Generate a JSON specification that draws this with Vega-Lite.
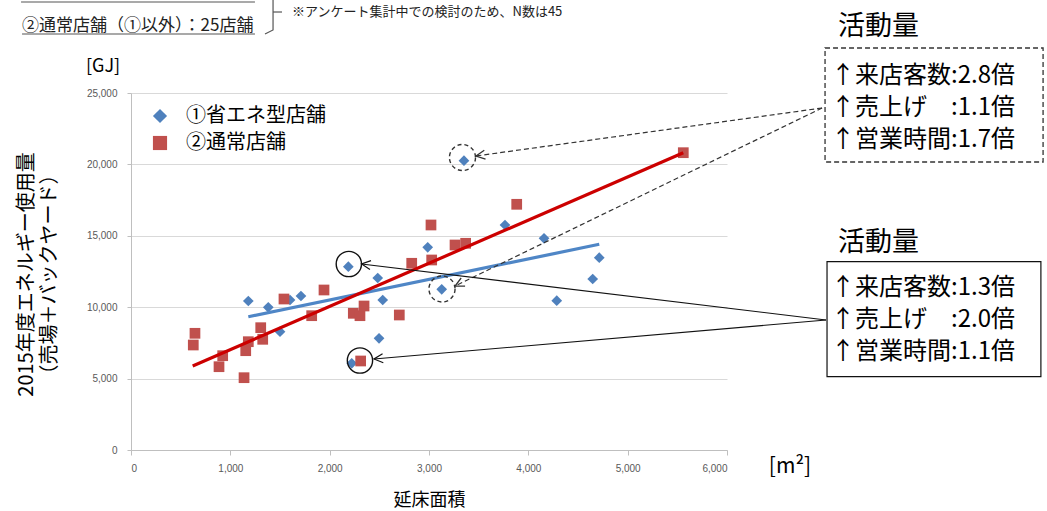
{
  "$schema": "https://vega.github.io/schema/vega-lite/v6.json",
  "width": 596,
  "height": 357,
  "autosize": {"type": "none"},
  "padding": {"left": 131, "top": 93, "right": 320, "bottom": 61},
  "background": "white",
  "config": {"view": {"stroke": null}, "font": "Noto Sans CJK JP", "numberFormat": ","},
  "datasets": {
    "pts": [
      {"type": "①省エネ型店舗", "area": 1181, "energy": 10434},
      {"type": "①省エネ型店舗", "area": 1382, "energy": 9990},
      {"type": "①省エネ型店舗", "area": 1500, "energy": 8284},
      {"type": "①省エネ型店舗", "area": 1601, "energy": 10505},
      {"type": "①省エネ型店舗", "area": 1711, "energy": 10785},
      {"type": "①省エネ型店舗", "area": 2188, "energy": 12837},
      {"type": "①省エネ型店舗", "area": 2484, "energy": 12045},
      {"type": "①省エネ型店舗", "area": 2534, "energy": 10505},
      {"type": "①省エネ型店舗", "area": 2497, "energy": 7822},
      {"type": "①省エネ型店舗", "area": 2222, "energy": 6072},
      {"type": "①省エネ型店舗", "area": 2987, "energy": 14195},
      {"type": "①省エネ型店舗", "area": 3128, "energy": 11254},
      {"type": "①省エネ型店舗", "area": 3352, "energy": 20260},
      {"type": "①省エネ型店舗", "area": 3765, "energy": 15757},
      {"type": "①省エネ型店舗", "area": 4158, "energy": 14825},
      {"type": "①省エネ型店舗", "area": 4286, "energy": 10455},
      {"type": "①省エネ型店舗", "area": 4648, "energy": 11975},
      {"type": "①省エネ型店舗", "area": 4714, "energy": 13467},
      {"type": "②通常店舗", "area": 644, "energy": 8172},
      {"type": "②通常店舗", "area": 627, "energy": 7353},
      {"type": "②通常店舗", "area": 923, "energy": 6604},
      {"type": "②通常店舗", "area": 886, "energy": 5833},
      {"type": "②通常店舗", "area": 1138, "energy": 5063},
      {"type": "②通常店舗", "area": 1306, "energy": 8565},
      {"type": "②通常店舗", "area": 1181, "energy": 7584},
      {"type": "②通常店舗", "area": 1155, "energy": 6954},
      {"type": "②通常店舗", "area": 1326, "energy": 7752},
      {"type": "②通常店舗", "area": 1540, "energy": 10574},
      {"type": "②通常店舗", "area": 1943, "energy": 11205},
      {"type": "②通常店舗", "area": 1819, "energy": 9405},
      {"type": "②通常店舗", "area": 2238, "energy": 9573},
      {"type": "②通常店舗", "area": 2305, "energy": 9405},
      {"type": "②通常店舗", "area": 2346, "energy": 10084},
      {"type": "②通常店舗", "area": 2701, "energy": 9454},
      {"type": "②通常店舗", "area": 2312, "energy": 6233},
      {"type": "②通常店舗", "area": 5560, "energy": 20820},
      {"type": "②通常店舗", "area": 3883, "energy": 17206},
      {"type": "②通常店舗", "area": 3020, "energy": 15757},
      {"type": "②通常店舗", "area": 3262, "energy": 14356},
      {"type": "②通常店舗", "area": 3369, "energy": 14475},
      {"type": "②通常店舗", "area": 3027, "energy": 13306},
      {"type": "②通常店舗", "area": 2826, "energy": 13075}
    ],
    "trend": [
      {"type": "①省エネ型店舗", "area": 1181, "energy": 9335},
      {"type": "①省エネ型店舗", "area": 4714, "energy": 14405},
      {"type": "②通常店舗", "area": 621, "energy": 5882},
      {"type": "②通常店舗", "area": 5560, "energy": 20820}
    ],
    "arrows": [
      {"id": "d1", "area": 6957, "energy": 23950, "area2": 3473, "energy2": 20588},
      {"id": "d2", "area": 6957, "energy": 23950, "area2": 3262, "energy2": 11485},
      {"id": "s1", "area": 6997, "energy": 9104, "area2": 2321, "energy2": 13025},
      {"id": "s2", "area": 6997, "energy": 9104, "area2": 2446, "energy2": 6373}
    ],
    "rings": [
      {"style": "dash", "area": 3337, "energy": 20483},
      {"style": "dash", "area": 3131, "energy": 11275},
      {"style": "solid", "area": 2193, "energy": 13025},
      {"style": "solid", "area": 2305, "energy": 6268}
    ],
    "boxes": [
      {"style": "dash", "area": 6987, "area2": 9182, "energy": 28151, "energy2": 20168},
      {"style": "solid", "area": 7007, "area2": 9160, "energy": 13186, "energy2": 5133}
    ],
    "notes": [
      {"kind": "head", "area": 7118, "energy": 29643, "text": "活動量"},
      {"kind": "head", "area": 7118, "energy": 14475, "text": "活動量"},
      {"kind": "line", "area": 7047, "energy": 26190, "text": "↑来店客数:2.8倍"},
      {"kind": "line", "area": 7047, "energy": 23928, "text": "↑売上げ　:1.1倍"},
      {"kind": "line", "area": 7047, "energy": 21709, "text": "↑営業時間:1.7倍"},
      {"kind": "line", "area": 7047, "energy": 11324, "text": "↑来店客数:1.3倍"},
      {"kind": "line", "area": 7047, "energy": 9104, "text": "↑売上げ　:2.0倍"},
      {"kind": "line", "area": 7047, "energy": 6884, "text": "↑営業時間:1.1倍"},
      {"kind": "unit", "area": -282, "energy": 26821, "text": "[GJ]"},
      {"kind": "unit2", "area": 6634, "energy": -1190, "text": "[m²]"},
      {"kind": "top", "area": -1097, "energy": 29692, "text": "②通常店舗（①以外）：25店舗"},
      {"kind": "top2", "area": 1621, "energy": 30672, "text": "※アンケート集計中での検討のため、N数は45"}
    ],
    "strokes": [
      {"seg": "top", "ord": 1, "area": -1107, "energy": 31373},
      {"seg": "top", "ord": 2, "area": 1248, "energy": 31373},
      {"seg": "ul", "ord": 1, "area": -1097, "energy": 29132},
      {"seg": "ul", "ord": 2, "area": 1248, "energy": 29132},
      {"seg": "brace", "ord": 1, "area": 1349, "energy": 29132},
      {"seg": "brace", "ord": 2, "area": 1430, "energy": 29412},
      {"seg": "brace", "ord": 3, "area": 1430, "energy": 31513},
      {"seg": "tick", "ord": 1, "area": 1430, "energy": 30672},
      {"seg": "tick", "ord": 2, "area": 1520, "energy": 30672}
    ]
  },
  "layer": [
    {
      "data": {"name": "pts"},
      "mark": {"type": "point", "filled": true, "opacity": 1, "size": 115, "strokeWidth": 0},
      "encoding": {
        "x": {
          "field": "area", "type": "quantitative",
          "scale": {"domain": [0, 6000], "nice": false},
          "axis": {
            "title": "延床面積", "titleFontSize": 18, "titleFontWeight": "normal", "titleColor": "#000",
            "titleFont": "Noto Sans CJK JP", "titleY": 50, "titleBaseline": "middle",
            "values": [0, 1000, 2000, 3000, 4000, 5000, 6000], "format": ",",
            "labelExpr": "format(datum.value, ',')",
            "labelFont": "Liberation Sans", "labelFontSize": 10, "labelColor": "#595959",
            "tickSize": 5, "tickColor": "#bfbfbf", "domainColor": "#bfbfbf", "labelPadding": 8,
            "grid": false
          }
        },
        "y": {
          "field": "energy", "type": "quantitative",
          "scale": {"domain": [0, 25000], "nice": false},
          "axis": {
            "title": ["2015年度エネルギー使用量", "（売場＋バックヤード）"],
            "titleFontSize": 20, "titleFontWeight": "normal", "titleColor": "#000", "titleFont": "Noto Sans CJK JP",
            "titleAngle": -90, "titleX": -105, "titleY": 181, "titleAlign": "center", "titleBaseline": "middle",
            "titleLineHeight": 23,
            "values": [0, 5000, 10000, 15000, 20000, 25000], "format": ",",
            "labelExpr": "format(datum.value, ',')",
            "labelFont": "Liberation Sans", "labelFontSize": 10, "labelColor": "#595959",
            "tickSize": 4, "tickColor": "#bfbfbf", "domainColor": "#bfbfbf", "labelPadding": 10,
            "grid": true, "gridColor": "#d9d9d9"
          }
        },
        "color": {
          "field": "type", "type": "nominal",
          "scale": {"domain": ["①省エネ型店舗", "②通常店舗"], "range": ["#4f81bd", "#c0504d"]},
          "legend": {
            "orient": "none", "legendX": 19, "legendY": 13, "title": null, "padding": 0,
            "labelFontSize": 20, "labelFont": "Noto Sans CJK JP", "labelColor": "#000",
            "symbolSize": 200, "rowPadding": 7, "labelOffset": 16, "symbolStrokeWidth": 0,
            "encode": {"symbols": {"update": {
              "fill": {"signal": "datum.value === '①省エネ型店舗' ? '#0070c0' : '#c00000'"},
              "opacity": {"value": 1}
            }}}
          }
        },
        "shape": {
          "field": "type", "type": "nominal",
          "scale": {"domain": ["①省エネ型店舗", "②通常店舗"], "range": ["diamond", "square"]}
        }
      }
    },
    {
      "data": {"name": "trend"},
      "transform": [{"filter": "datum.type === '①省エネ型店舗'"}],
      "mark": {"type": "line", "strokeWidth": 3.2, "color": "#4f86c6"},
      "encoding": {
        "x": {"field": "area", "type": "quantitative", "scale": {"domain": [0, 6000], "nice": false}},
        "y": {"field": "energy", "type": "quantitative", "scale": {"domain": [0, 25000], "nice": false}}
      }
    },
    {
      "data": {"name": "trend"},
      "transform": [{"filter": "datum.type === '②通常店舗'"}],
      "mark": {"type": "line", "strokeWidth": 3.2, "color": "#cc0000"},
      "encoding": {
        "x": {"field": "area", "type": "quantitative", "scale": {"domain": [0, 6000], "nice": false}},
        "y": {"field": "energy", "type": "quantitative", "scale": {"domain": [0, 25000], "nice": false}}
      }
    },
    {
      "data": {"name": "arrows"},
      "transform": [{"filter": "datum.id[0] === 'd'"}],
      "mark": {"type": "rule", "strokeDash": [5, 3], "strokeWidth": 1.2, "color": "#333"},
      "encoding": {
        "x": {"field": "area", "type": "quantitative", "scale": {"domain": [0, 6000], "nice": false}},
        "y": {"field": "energy", "type": "quantitative", "scale": {"domain": [0, 25000], "nice": false}},
        "x2": {"field": "area2"},
        "y2": {"field": "energy2"}
      }
    },
    {
      "data": {"name": "arrows"},
      "transform": [{"filter": "datum.id[0] === 's'"}],
      "mark": {"type": "rule", "strokeWidth": 1.1, "color": "#111"},
      "encoding": {
        "x": {"field": "area", "type": "quantitative", "scale": {"domain": [0, 6000], "nice": false}},
        "y": {"field": "energy", "type": "quantitative", "scale": {"domain": [0, 25000], "nice": false}},
        "x2": {"field": "area2"},
        "y2": {"field": "energy2"}
      }
    },
    {
      "data": {"name": "arrows"},
      "transform": [{"filter": "datum.id === 'd1'"}],
      "mark": {"type": "point", "shape": "M2,-1L0,0L2,1", "filled": false, "size": 81, "angle": -7.9, "stroke": "#333", "strokeWidth": 1.3, "opacity": 1},
      "encoding": {
        "x": {"field": "area2", "type": "quantitative", "scale": {"domain": [0, 6000], "nice": false}},
        "y": {"field": "energy2", "type": "quantitative", "scale": {"domain": [0, 25000], "nice": false}}
      }
    },
    {
      "data": {"name": "arrows"},
      "transform": [{"filter": "datum.id === 'd2'"}],
      "mark": {"type": "point", "shape": "M2,-1L0,0L2,1", "filled": false, "size": 81, "angle": -25.9, "stroke": "#333", "strokeWidth": 1.3, "opacity": 1},
      "encoding": {
        "x": {"field": "area2", "type": "quantitative", "scale": {"domain": [0, 6000], "nice": false}},
        "y": {"field": "energy2", "type": "quantitative", "scale": {"domain": [0, 25000], "nice": false}}
      }
    },
    {
      "data": {"name": "arrows"},
      "transform": [{"filter": "datum.id === 's1'"}],
      "mark": {"type": "point", "shape": "M2,-1L0,0L2,1", "filled": false, "size": 81, "angle": 6.9, "stroke": "#111", "strokeWidth": 1.2, "opacity": 1},
      "encoding": {
        "x": {"field": "area2", "type": "quantitative", "scale": {"domain": [0, 6000], "nice": false}},
        "y": {"field": "energy2", "type": "quantitative", "scale": {"domain": [0, 25000], "nice": false}}
      }
    },
    {
      "data": {"name": "arrows"},
      "transform": [{"filter": "datum.id === 's2'"}],
      "mark": {"type": "point", "shape": "M2,-1L0,0L2,1", "filled": false, "size": 81, "angle": -4.9, "stroke": "#111", "strokeWidth": 1.2, "opacity": 1},
      "encoding": {
        "x": {"field": "area2", "type": "quantitative", "scale": {"domain": [0, 6000], "nice": false}},
        "y": {"field": "energy2", "type": "quantitative", "scale": {"domain": [0, 25000], "nice": false}}
      }
    },
    {
      "data": {"name": "rings"},
      "transform": [{"filter": "datum.style === 'dash'"}],
      "mark": {"type": "point", "shape": "circle", "filled": false, "size": 680, "stroke": "#333", "strokeWidth": 1.4, "strokeDash": [4, 3], "opacity": 1},
      "encoding": {
        "x": {"field": "area", "type": "quantitative", "scale": {"domain": [0, 6000], "nice": false}},
        "y": {"field": "energy", "type": "quantitative", "scale": {"domain": [0, 25000], "nice": false}}
      }
    },
    {
      "data": {"name": "rings"},
      "transform": [{"filter": "datum.style === 'solid'"}],
      "mark": {"type": "point", "shape": "circle", "filled": false, "size": 640, "stroke": "#111", "strokeWidth": 1.4, "opacity": 1},
      "encoding": {
        "x": {"field": "area", "type": "quantitative", "scale": {"domain": [0, 6000], "nice": false}},
        "y": {"field": "energy", "type": "quantitative", "scale": {"domain": [0, 25000], "nice": false}}
      }
    },
    {
      "data": {"name": "boxes"},
      "transform": [{"filter": "datum.style === 'dash'"}],
      "mark": {"type": "rect", "fill": "white", "stroke": "#333", "strokeWidth": 1.3, "strokeDash": [5, 3]},
      "encoding": {
        "x": {"field": "area", "type": "quantitative", "scale": {"domain": [0, 6000], "nice": false}},
        "x2": {"field": "area2"},
        "y": {"field": "energy", "type": "quantitative", "scale": {"domain": [0, 25000], "nice": false}},
        "y2": {"field": "energy2"}
      }
    },
    {
      "data": {"name": "boxes"},
      "transform": [{"filter": "datum.style === 'solid'"}],
      "mark": {"type": "rect", "fill": "white", "stroke": "#111", "strokeWidth": 1.2},
      "encoding": {
        "x": {"field": "area", "type": "quantitative", "scale": {"domain": [0, 6000], "nice": false}},
        "x2": {"field": "area2"},
        "y": {"field": "energy", "type": "quantitative", "scale": {"domain": [0, 25000], "nice": false}},
        "y2": {"field": "energy2"}
      }
    },
    {
      "data": {"name": "strokes"},
      "mark": {"type": "line", "color": "#555", "strokeWidth": 1.2},
      "encoding": {
        "x": {"field": "area", "type": "quantitative", "scale": {"domain": [0, 6000], "nice": false}},
        "y": {"field": "energy", "type": "quantitative", "scale": {"domain": [0, 25000], "nice": false}},
        "detail": {"field": "seg"},
        "order": {"field": "ord"}
      }
    },
    {
      "data": {"name": "notes"},
      "transform": [{"filter": "datum.kind === 'head'"}],
      "mark": {"type": "text", "align": "left", "baseline": "middle", "fontSize": 27, "font": "Noto Sans CJK JP", "color": "#000"},
      "encoding": {
        "x": {"field": "area", "type": "quantitative", "scale": {"domain": [0, 6000], "nice": false}},
        "y": {"field": "energy", "type": "quantitative", "scale": {"domain": [0, 25000], "nice": false}},
        "text": {"field": "text"}
      }
    },
    {
      "data": {"name": "notes"},
      "transform": [{"filter": "datum.kind === 'line'"}],
      "mark": {"type": "text", "align": "left", "baseline": "middle", "fontSize": 24, "font": "Noto Sans CJK JP", "color": "#000"},
      "encoding": {
        "x": {"field": "area", "type": "quantitative", "scale": {"domain": [0, 6000], "nice": false}},
        "y": {"field": "energy", "type": "quantitative", "scale": {"domain": [0, 25000], "nice": false}},
        "text": {"field": "text"}
      }
    },
    {
      "data": {"name": "notes"},
      "transform": [{"filter": "datum.kind === 'unit'"}],
      "mark": {"type": "text", "align": "center", "baseline": "middle", "fontSize": 18, "font": "Noto Sans CJK JP", "color": "#000"},
      "encoding": {
        "x": {"field": "area", "type": "quantitative", "scale": {"domain": [0, 6000], "nice": false}},
        "y": {"field": "energy", "type": "quantitative", "scale": {"domain": [0, 25000], "nice": false}},
        "text": {"field": "text"}
      }
    },
    {
      "data": {"name": "notes"},
      "transform": [{"filter": "datum.kind === 'unit2'"}],
      "mark": {"type": "text", "align": "center", "baseline": "middle", "fontSize": 21, "font": "Noto Sans CJK JP", "color": "#000"},
      "encoding": {
        "x": {"field": "area", "type": "quantitative", "scale": {"domain": [0, 6000], "nice": false}},
        "y": {"field": "energy", "type": "quantitative", "scale": {"domain": [0, 25000], "nice": false}},
        "text": {"field": "text"}
      }
    },
    {
      "data": {"name": "notes"},
      "transform": [{"filter": "datum.kind === 'top'"}],
      "mark": {"type": "text", "align": "left", "baseline": "middle", "fontSize": 17, "font": "Noto Sans CJK JP", "color": "#222"},
      "encoding": {
        "x": {"field": "area", "type": "quantitative", "scale": {"domain": [0, 6000], "nice": false}},
        "y": {"field": "energy", "type": "quantitative", "scale": {"domain": [0, 25000], "nice": false}},
        "text": {"field": "text"}
      }
    },
    {
      "data": {"name": "notes"},
      "transform": [{"filter": "datum.kind === 'top2'"}],
      "mark": {"type": "text", "align": "left", "baseline": "middle", "fontSize": 13, "font": "Noto Sans CJK JP", "color": "#222"},
      "encoding": {
        "x": {"field": "area", "type": "quantitative", "scale": {"domain": [0, 6000], "nice": false}},
        "y": {"field": "energy", "type": "quantitative", "scale": {"domain": [0, 25000], "nice": false}},
        "text": {"field": "text"}
      }
    }
  ]
}
